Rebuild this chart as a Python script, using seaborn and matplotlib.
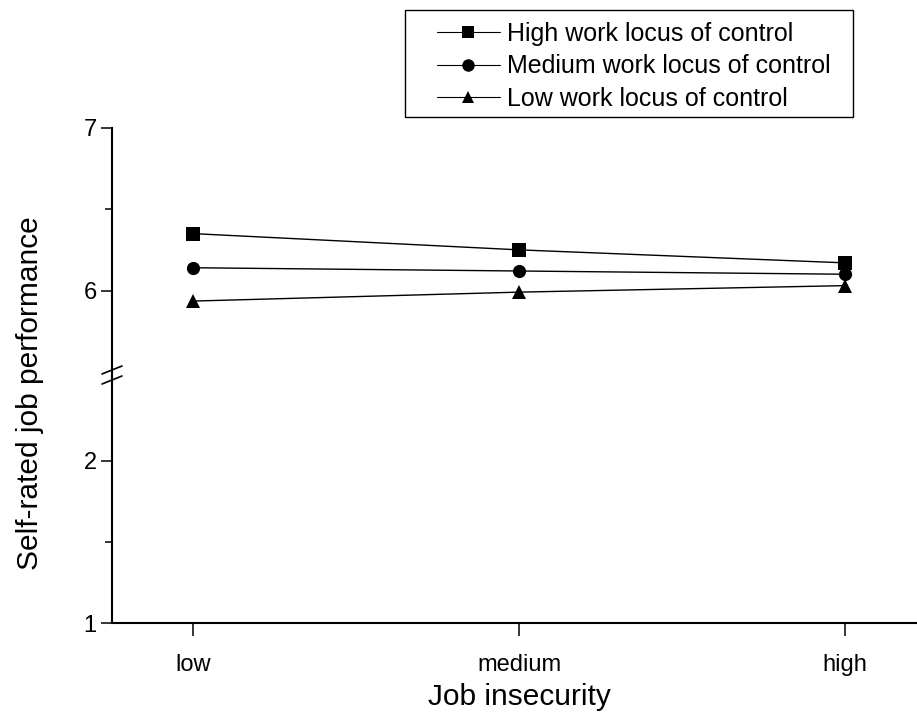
import matplotlib
matplotlib.use("Agg")
import matplotlib.pyplot as plt
from matplotlib.lines import Line2D
from matplotlib.patches import Rectangle
import seaborn as sns
import pandas as pd

# ---- data ----
insecurity = ["low", "medium", "high"]
groups = ["High work locus of control", "Medium work locus of control", "Low work locus of control"]
high_loc = [6.35, 6.25, 6.17]
medium_loc = [6.14, 6.12, 6.10]
low_loc = [5.935, 5.99, 6.03]
group_markers = ["s", "o", "^"]

rows = []
for g, vals in zip(groups, [high_loc, medium_loc, low_loc]):
    for x, v in zip(insecurity, vals):
        rows.append({"Job insecurity": x, "perf": v, "group": g})
df = pd.DataFrame(rows)

sns.set_theme(style="white", rc={"text.color": "black", "axes.labelcolor": "black",
                                 "xtick.color": "black", "ytick.color": "black"})
plt.rcParams["font.family"] = ["Liberation Sans", "DejaVu Sans"]

fig = plt.figure(figsize=(9.17, 7.18), dpi=100)
W, H = 917, 718
left = 112 / W
y_top = 1 - 128 / H
y_split = 1 - 375.5 / H
y_bot = 1 - 623 / H
ax_top = fig.add_axes([left, y_split, 1 - left, y_top - y_split])
ax_bot = fig.add_axes([left, y_bot, 1 - left, y_split - y_bot])

for ax in (ax_top, ax_bot):
    sns.lineplot(data=df, x="Job insecurity", y="perf", hue="group", style="group",
                 hue_order=groups, style_order=groups,
                 palette=["black"] * 3, markers=group_markers, dashes=False,
                 markersize=9.5, linewidth=1.0, markeredgewidth=0,
                 sort=False, ax=ax, legend=(ax is ax_top))
    ax.set_xlim(-0.25, 2.22)
    ax.set_xlabel("")
    ax.set_ylabel("")
    ax.set_facecolor("none")
    for s in ("top", "right"):
        ax.spines[s].set_visible(False)
    ax.spines["left"].set_color("black")
    ax.spines["left"].set_linewidth(1.5)
    ax.spines["bottom"].set_color("black")
    ax.spines["bottom"].set_linewidth(1.5)
    ax.tick_params(axis="y", which="major", direction="out", length=8, width=1.1,
                   color="black", labelsize=17, labelcolor="black", pad=3, left=True)
    ax.tick_params(axis="y", which="minor", direction="out", length=5, width=1.1,
                   color="black", left=True)

ax_top.set_ylim(7 - 247.5 / 162.5, 7)
ax_top.set_yticks([6, 7])
ax_top.set_yticks([6.5], minor=True)
ax_top.spines["bottom"].set_visible(False)
ax_top.tick_params(axis="x", which="both", bottom=False, labelbottom=False)

ax_bot.set_ylim(1, 1 + 247.5 / 162.5)
ax_bot.set_yticks([1, 2])
ax_bot.set_yticks([1.5], minor=True)
ax_bot.tick_params(axis="x", direction="out", length=9, width=1.1, color="black",
                   labelsize=17, labelcolor="black", pad=13, bottom=True)

# legend
handles, labels = ax_top.get_legend_handles_labels()
ax_top.get_legend().remove()
leg = fig.legend(handles, labels, loc="upper left",
                 bbox_to_anchor=(437 / W, 1 - 22 / H),
                 fontsize=18, frameon=False,
                 handlelength=2.5, handletextpad=0.3, labelspacing=0.33,
                 borderpad=0, borderaxespad=0)
for h in leg.legend_handles:
    h.set_markersize(9)
    h.set_linewidth(0.8)
for t in leg.get_texts():
    t.set_color("black")
fig.add_artist(Rectangle((405 / W, 1 - 117 / H), (853 - 405) / W, (117 - 10) / H,
                         transform=fig.transFigure, fill=False, edgecolor="black",
                         linewidth=1.0))

# axis break marks
xc = 112
for yc in (370, 380):
    fig.add_artist(Line2D([(xc - 10) / W, (xc + 10) / W],
                          [1 - (yc + 4) / H, 1 - (yc - 4) / H],
                          color="black", linewidth=1.2, transform=fig.transFigure))

fig.text(30 / W, 1 - 393 / H, "Self-rated job performance", rotation=90,
         ha="center", va="center", fontsize=21.5)
fig.text(519 / W, 1 - 697 / H, "Job insecurity", ha="center", va="center", fontsize=21.5)

fig.savefig("out.png", dpi=100)
